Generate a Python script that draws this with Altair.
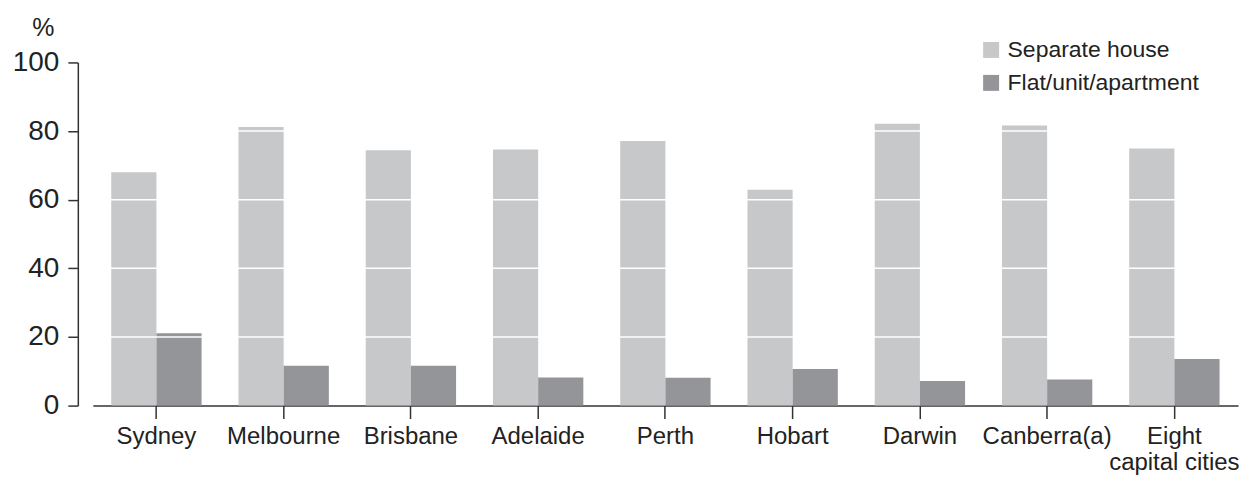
import altair as alt
import pandas as pd

cities = ["Sydney", "Melbourne", "Brisbane", "Adelaide", "Perth", "Hobart",
          "Darwin", "Canberra(a)", "Eight capital cities"]
separate_house = [68.0, 81.2, 74.4, 74.6, 77.1, 62.9, 82.1, 81.6, 74.9]
flat_unit_apartment = [21.1, 11.6, 11.6, 8.2, 8.1, 10.7, 7.2, 7.6, 13.6]
series = ["Separate house", "Flat/unit/apartment"]
colors = ["#c7c8ca", "#939598"]
y_ticks = [0, 20, 40, 60, 80, 100]
gridlines = [20, 40, 60, 80]

rows = []
for c, a, b in zip(cities, separate_house, flat_unit_apartment):
    rows.append({"city": c, "series": series[0], "value": a})
    rows.append({"city": c, "series": series[1], "value": b})
df = pd.DataFrame(rows)
grid_df = pd.DataFrame({"value": gridlines})

FONT = "Liberation Sans"
AX = "#333333"
TXT = "#222222"

bars = alt.Chart(df).mark_bar().encode(
    x=alt.X("city:N", sort=cities,
            scale=alt.Scale(paddingInner=0.29, paddingOuter=0.145),
            axis=alt.Axis(title=None, labelAngle=0, ticks=True,
                          labelExpr="datum.value == 'Eight capital cities' ? ['Eight', 'capital cities'] : datum.value",
                          labelFont=FONT, labelFontSize=24, labelColor=TXT,
                          labelLineHeight=26, labelPadding=6, labelLimit=300,
                          tickSize=13, tickColor=AX, tickWidth=1.5,
                          domainColor=AX, domainWidth=1.5)),
    xOffset=alt.XOffset("series:N", sort=series,
                        scale=alt.Scale(paddingInner=0, paddingOuter=0)),
    y=alt.Y("value:Q", scale=alt.Scale(domain=[0, 100]),
            axis=alt.Axis(values=y_ticks, grid=False, offset=15, ticks=True,
                          title="%", titleAngle=0, titleX=-35, titleY=-35,
                          titleAlign="center", titleBaseline="middle",
                          titleFont=FONT, titleFontSize=25, titleFontWeight="normal",
                          titleColor=TXT,
                          labelFont=FONT, labelFontSize=28, labelColor=TXT,
                          labelPadding=9,
                          tickSize=10, tickColor=AX, tickWidth=1.5,
                          domainColor=AX, domainWidth=1.5)),
    color=alt.Color("series:N", sort=series,
                    scale=alt.Scale(domain=series, range=colors),
                    legend=alt.Legend(title=None, orient="none", legendX=889, legendY=-24,
                                      symbolType="square", symbolSize=256,
                                      symbolStrokeWidth=0, labelFont=FONT,
                                      labelFontSize=23, labelColor=TXT, labelLimit=400,
                                      rowPadding=9, labelOffset=5)),
)

grid = alt.Chart(grid_df).mark_rule(color="white", strokeWidth=1.5).encode(
    y=alt.Y("value:Q")
)

chart = alt.layer(bars, grid).properties(
    width=1148, height=344,
    autosize=alt.AutoSizeParams(type="none"),
    padding={"left": 85, "top": 54, "right": 4, "bottom": 70},
).configure_view(stroke=None)

chart.save("out.html", embed_options={"renderer": "svg", "actions": False})
